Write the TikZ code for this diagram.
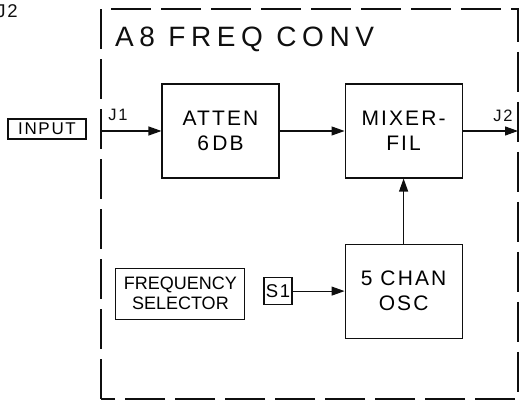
\documentclass[tikz,border=0pt]{standalone}
\usepackage{fontspec}
\usepackage{tikz}
\usetikzlibrary{arrows.meta,positioning}
\setmainfont{Liberation Sans}
\newfontfamily\fcletter[LetterSpace=10]{Liberation Sans}
\newfontfamily\fctitlefont[LetterSpace=20]{Liberation Sans}
\definecolor{fcink}{RGB}{15,15,15}
\tikzset{
  fcblock/.style={draw=fcink, line width=1.1pt, align=center, minimum width=117pt, minimum height=94pt, inner sep=2pt, font=\fcletter\fontsize{21}{25}\selectfont},
  fctag/.style={draw=fcink, line width=1.1pt, align=center, inner sep=1pt, font=\fcletter\fontsize{17}{19}\selectfont},
  fclabel/.style={inner sep=0pt, text=fcink, font=\fcletter\fontsize{16.5}{16}\selectfont},
  fcframe/.style={draw=fcink, line width=1.2pt, dash pattern=on 40pt off 10pt},
  fcarr/.style={-{Triangle[length=13pt,width=9pt]}, line width=1.1pt, draw=fcink}
}
\begin{document}
\begin{tikzpicture}[node distance=65pt]
  \useasboundingbox (0,0) rectangle (525pt,412pt);
  % module outline
  \draw[fcframe] (101pt,13pt) rectangle (518pt,403pt);
  \node[anchor=base west, inner sep=0pt, text=fcink, font=\fctitlefont\fontsize{28}{30}\selectfont] (title) at (115pt,365pt) {A8 FREQ CONV};
  \node[anchor=base east, fclabel, font=\fcletter\fontsize{18.5}{18}\selectfont] (j2top) at (18pt,394pt) {J2};
  % signal path
  \node[fcblock] (atten) at (220.5pt,281pt) {ATTEN\\6\,DB};
  \node[fcblock, right=of atten] (mixer) {MIXER-\\FIL};
  \node[fcblock, below=of mixer] (osc) {5 CHAN\\OSC};
  \node[fctag, minimum width=78pt, minimum height=20pt] (input) at (47pt,283pt) {INPUT};
  \node[fctag, minimum width=28pt, minimum height=27pt, left=52pt of osc, font=\fcletter\fontsize{18.5}{19}\selectfont] (s1) {S1};
  \node[fctag, minimum width=129pt, minimum height=51pt, left=18pt of s1, yshift=-2.5pt, font=\fontsize{18}{20}\selectfont] (fsel) {FREQUENCY\\SELECTOR};
  \coordinate (j1) at (101pt,281pt);
  \coordinate (j2) at (518pt,281pt);
  \node[fclabel] (j1lbl) at (118pt,297pt) {J1};
  \node[fclabel] (j2lbl) at (503pt,296pt) {J2};
  \draw[fcarr] (j1) -- (atten.west);
  \draw[fcarr] (atten.east) -- (atten.east -| mixer.west);
  \draw[fcarr] (mixer.east) -- (j2);
  \draw[fcarr] (osc.north) -- (mixer.south);
  \draw[fcarr] (s1.east) -- (osc.west);
\end{tikzpicture}
\end{document}
